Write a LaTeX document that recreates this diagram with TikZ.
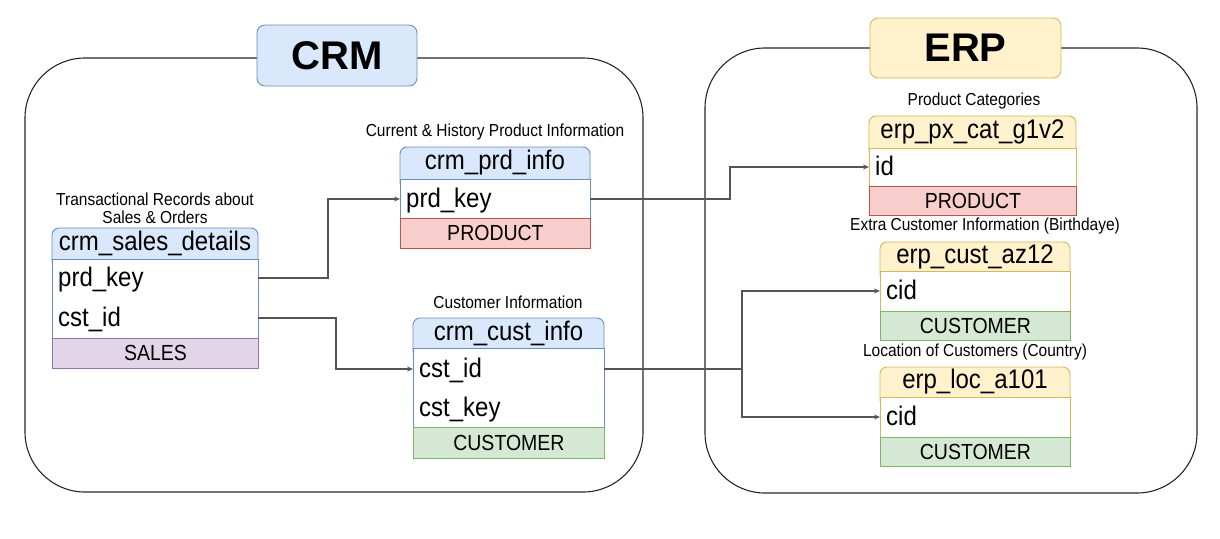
\documentclass[tikz,border=0pt]{standalone}
\usepackage{fontspec}
\usepackage{graphicx}
\setmainfont{Liberation Sans}
\usetikzlibrary{arrows.meta}
\definecolor{blueF}{HTML}{DAE8FC}
\definecolor{blueS}{HTML}{6C8EBF}
\definecolor{yelF}{HTML}{FFF2CC}
\definecolor{yelS}{HTML}{D6B656}
\definecolor{redF}{HTML}{F8CECC}
\definecolor{redS}{HTML}{B85450}
\definecolor{grnF}{HTML}{D5E8D4}
\definecolor{grnS}{HTML}{82B366}
\definecolor{purF}{HTML}{E1D5E7}
\definecolor{purS}{HTML}{9673A6}
\definecolor{lineC}{HTML}{555555}
\newcommand\tallt[1]{\scalebox{1}[1.12]{#1}}
% #1 name, #2 x1, #3 x2, #4 header top, #5 header bottom, #6 body bottom, #7 scheme, #8 title
\newcommand\tblhead[8]{%
  \draw[fill=#7F, draw=#7S, line width=0.9pt, rounded corners=7pt] (#2,#4) rectangle (#3,#5+10);
  \node[hdtxt, minimum width=#3-#2, minimum height=#5-#4] (#1-h) at ({(#2+#3)/2},{(#4+#5)/2}) {\tallt{#8}};
  \draw[fill=white, draw=#7S, line width=0.9pt] (#2,#5) rectangle (#3,#6);
}
\begin{document}
\begin{tikzpicture}[x=1pt,y=-1pt,
  hdtxt/.style={inner sep=0pt, font=\fontsize{24}{28}\selectfont},
  rowtxt/.style={inner xsep=6pt, inner ysep=2pt, align=left, anchor=west, text height=21pt, text depth=4pt, font=\fontsize{24}{28}\selectfont},
  foot/.style={anchor=north west, inner sep=0pt, line width=0.9pt, font=\fontsize{19.5}{23}\selectfont},
  lbl/.style={inner sep=0pt, font=\fontsize{15.5}{18}\selectfont},
  container/.style={draw=black!85, line width=1.1pt, rounded corners=60pt},
  title/.style={line width=0.9pt, rounded corners=8pt, inner sep=0pt, font=\fontsize{40}{44}\selectfont\bfseries},
  conn/.style={draw=lineC, line width=1.2pt, -{Stealth[length=6pt,width=5pt]}}
]
\useasboundingbox (0,0) rectangle (1220,538);

% containers
\draw[container] (25,58) rectangle (643,492);
\draw[container] (705,48) rectangle (1197,493);
\node[title, draw=blueS, fill=blueF, minimum width=160pt, minimum height=61pt] (crm) at (337,55.5) {CRM};
\node[title, draw=yelS, fill=yelF, minimum width=191pt, minimum height=60pt] (erp) at (965.5,48) {ERP};

% crm_sales_details
\node[lbl, align=center] (sd-l) at (155,208.5) {\tallt{Transactional Records about}\\[0pt]\tallt{Sales \& Orders}};
\tblhead{sd}{52}{258}{228}{259}{338}{blue}{crm\_sales\_details}
\node[rowtxt, text width=194pt] (sd-prd) at (52,278) {\tallt{prd\_key}};
\node[rowtxt, text width=194pt] (sd-cst) at (52,318) {\tallt{cst\_id}};
\node[foot, draw=purS, fill=purF, minimum width=206pt, minimum height=30pt] (sd-f) at (52,338) {\tallt{SALES}};

% crm_prd_info
\node[lbl] (pi-l) at (495,132) {\tallt{Current \& History Product Information}};
\tblhead{pi}{400}{590}{147}{179}{218}{blue}{crm\_prd\_info}
\node[rowtxt, text width=178pt] (pi-prd) at (400,199) {\tallt{prd\_key}};
\node[foot, draw=redS, fill=redF, minimum width=190pt, minimum height=30pt] (pi-f) at (400,218) {\tallt{PRODUCT}};

% crm_cust_info
\node[lbl] (ci-l) at (508,302) {\tallt{Customer Information}};
\tblhead{ci}{413}{604}{318}{348}{427}{blue}{crm\_cust\_info}
\node[rowtxt, text width=179pt] (ci-id) at (413,369) {\tallt{cst\_id}};
\node[rowtxt, text width=179pt] (ci-key) at (413,408) {\tallt{cst\_key}};
\node[foot, draw=grnS, fill=grnF, minimum width=191pt, minimum height=31pt] (ci-f) at (413,427) {\tallt{CUSTOMER}};

% erp_px_cat_g1v2
\node[lbl] (px-l) at (974,101) {\tallt{Product Categories}};
\tblhead{px}{869}{1076}{116}{148}{186}{yel}{erp\_px\_cat\_g1v2}
\node[rowtxt, text width=195pt] (px-id) at (869,167) {\tallt{id}};
\node[foot, draw=redS, fill=redF, minimum width=207pt, minimum height=29pt] (px-f) at (869,186) {\tallt{PRODUCT}};

% erp_cust_az12
\node[lbl] (az-l) at (985,226) {\tallt{Extra Customer Information (Birthdaye)}};
\tblhead{az}{880}{1070}{242}{271}{311}{yel}{erp\_cust\_az12}
\node[rowtxt, text width=178pt] (az-id) at (880,291) {\tallt{cid}};
\node[foot, draw=grnS, fill=grnF, minimum width=190pt, minimum height=29pt] (az-f) at (880,311) {\tallt{CUSTOMER}};

% erp_loc_a101
\node[lbl] (lc-l) at (975,352) {\tallt{Location of Customers (Country)}};
\tblhead{lc}{880}{1070}{367}{397}{437}{yel}{erp\_loc\_a101}
\node[rowtxt, text width=178pt] (lc-id) at (880,417) {\tallt{cid}};
\node[foot, draw=grnS, fill=grnF, minimum width=190pt, minimum height=29pt] (lc-f) at (880,437) {\tallt{CUSTOMER}};

% elbow columns
\coordinate (j1) at (328,0);
\coordinate (j2) at (336,0);
\coordinate (j3) at (730,0);
\coordinate (j4) at (742,0);

% connectors
\draw[conn] (sd-prd.east) -- (sd-prd.east -| j1) |- (pi-prd.west);
\draw[conn] (sd-cst.east) -- (sd-cst.east -| j2) |- (ci-id.west);
\draw[conn] (pi-prd.east) -- (pi-prd.east -| j3) |- (px-id.west);
\draw[conn] (ci-id.east) -- (ci-id.east -| j4) |- (az-id.west);
\draw[conn] (ci-id.east -| j4) |- (lc-id.west);
\end{tikzpicture}
\end{document}
